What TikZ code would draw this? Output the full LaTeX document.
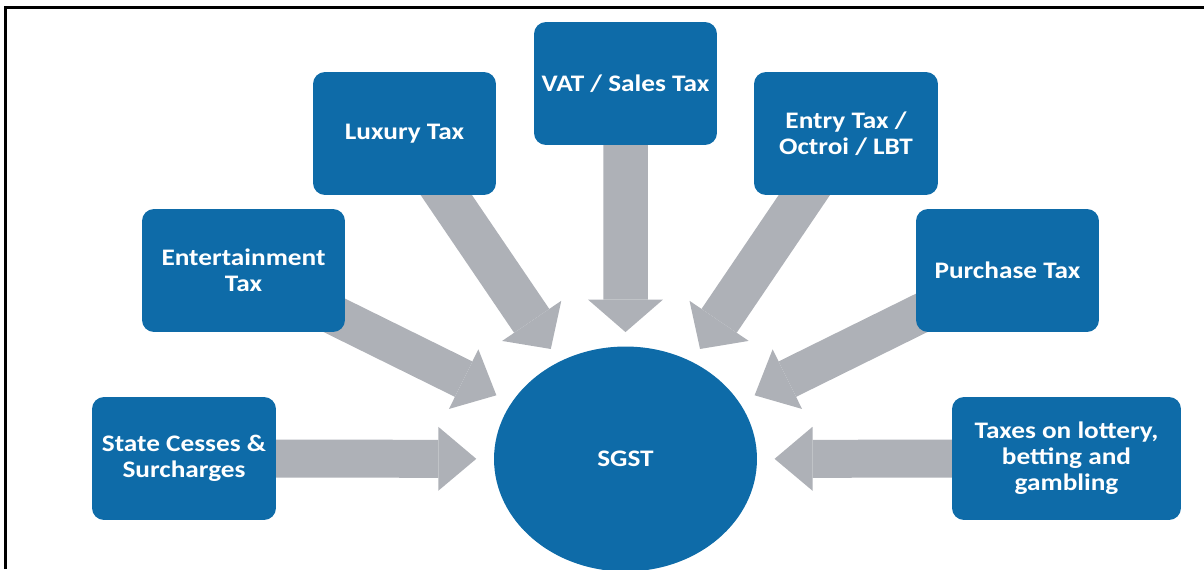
\documentclass[tikz,border=0pt]{standalone}
\usepackage{fontspec}
\setmainfont{Carlito}[FakeStretch=1.15]
\usepackage{tikz}
\usetikzlibrary{arrows.meta, calc, backgrounds, shapes.geometric}
\definecolor{taxblue}{RGB}{14,107,168}
\definecolor{arrowgrey}{RGB}{174,177,183}
\tikzset{
	taxtext/.style={
		font={\fontsize{13.5}{14.8}\selectfont\bfseries},
		text=white,
		align=center,
	},
	taxbox/.append style={
		taxtext,
		fill=taxblue,
		rounded corners=0.24cm,
		minimum width=3.66cm,
		minimum height=2.46cm,
		inner sep=0mm,
	},
	hub/.append style={
		taxtext,
		ellipse,
		fill=taxblue,
		minimum width=5.26cm,
		minimum height=4.5cm,
		inner sep=0mm,
	},
	fat/.style n args={3}{
		draw=arrowgrey,
		line width=#1,
		-{Triangle[width=#2, length=#3, line width=0pt]}
	}
}

\begin{document}
\begin{tikzpicture}[x=0.02cm, y=-0.02cm]
\useasboundingbox (0,0) rectangle (1204,569);

\node(sgst)[hub] at (625.5,459) {SGST};

\node(cess)[taxbox, minimum width=3.68cm] at (184,458.5) {State Cesses \&\\Surcharges};
\node(ent)[taxbox, minimum width=4.06cm] at (243.5,270.5) {Entertainment\\Tax};
\node(lux)[taxbox] at (404.5,133.5) {Luxury Tax};
\node(vat)[taxbox] at (625.5,83.5) {VAT / Sales Tax};
\node(entry)[taxbox, minimum width=3.68cm] at (846,133.5) {Entry Tax /\\Octroi / LBT};
\node(pur)[taxbox] at (1007.5,270.5) {Purchase Tax};
\node(lot)[taxbox, minimum width=4.58cm] at (1066.5,458.5) {Taxes on lottery,\\betting and\\gambling};

% arrow heads stop on a ring round the hub
\begin{pgfonlayer}{background}
\foreach \src in {cess, ent, lux, vat, entry, pur, lot}
	\coordinate (\src tip) at ($(sgst.center)!0.338!(\src.center)$);

\draw[fat={0.76cm}{1.28cm}{0.76cm}] (cess.center) -- (cesstip);
\draw[fat={0.76cm}{1.28cm}{0.76cm}] (lot.center) -- (lottip);
\draw[fat={0.79cm}{1.33cm}{0.73cm}] (ent.center) -- (enttip);
\draw[fat={0.79cm}{1.33cm}{0.73cm}] (pur.center) -- (purtip);
\draw[fat={0.85cm}{1.43cm}{0.68cm}] (lux.center) -- (luxtip);
\draw[fat={0.85cm}{1.43cm}{0.68cm}] (entry.center) -- (entrytip);
\draw[fat={0.89cm}{1.50cm}{0.65cm}] (vat.center) -- (vattip);
\end{pgfonlayer}

% frame
\draw[line width=0.06cm] (5.5,569) -- (5.5,7.5) -- (1204,7.5);

\end{tikzpicture}
\end{document}
